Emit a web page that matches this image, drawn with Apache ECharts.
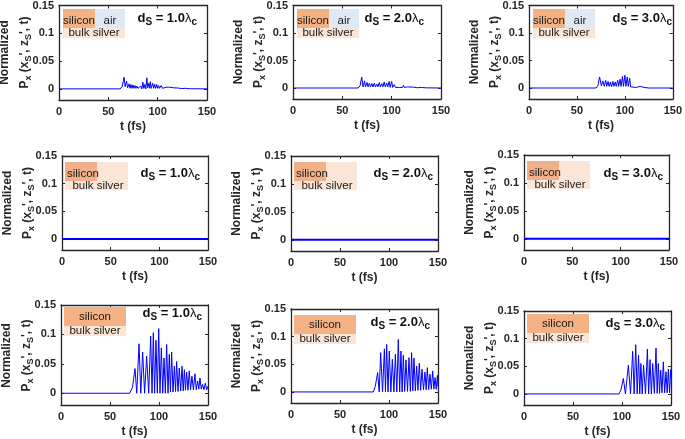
<!DOCTYPE html>
<html><head><meta charset="utf-8">
<script src="https://cdn.jsdelivr.net/npm/echarts@6/dist/echarts.min.js"></script>
<style>html,body{margin:0;padding:0;background:#fff}#c{width:685px;height:439px}</style>
</head><body><div id="c"></div>
<script>
// ---------- data ----------
const xTicks = [0, 50, 100, 150];
const yTicks = [0, 0.05, 0.1, 0.15];
const xTitle = 't (fs)';
const dsValues = ['1.0', '2.0', '3.0'];

// row 1 : silicon / air / bulk silver
const r1c1 = [[0,0],[62,0],[64,0.004],[66,0.021],[67,0.004],[68.5,0.014],[69.5,0.002],[71,0.009],[72,0.001],[73,0.008],[74,0.001],[75,0.007],[76,0.001],[77,0.006],[78,0.001],[79,0.005],[80,0.001],[81,0.004],[82,0.001],[83,0.005],[84,0],[85,0.012],[86,0.001],[87,0.008],[88,0],[89,0.02],[90,0.002],[91,0.01],[92,0.001],[92.5,0.013],[93.5,0.001],[95,0.01],[96,0.001],[97,0.008],[98,0.001],[99,0.008],[100,0.001],[101,0.006],[102,0.001],[103.5,0.006],[105,0.001],[106,0.004],[107,0.001],[108.5,0.003],[110,0.001],[112,0.003],[114,0.001],[116,0.002],[118,0.0005],[121,0.0015],[124,0.0005],[128,0.001],[132,0.0003],[150,0]];
const r1c2 = [[0,0],[66,0],[68,0.004],[69.6,0.02],[71,0.002],[72.5,0.013],[73.5,0.002],[75,0.01],[76,0.002],[77.5,0.009],[78.5,0.002],[80,0.008],[81,0.002],[82.5,0.009],[83.5,0.002],[85,0.007],[86,0.002],[87.5,0.01],[88.5,0.002],[90,0.008],[91,0.002],[92.5,0.011],[93.5,0.002],[95,0.009],[96,0.002],[97.5,0.012],[98.5,0.001],[100,0.012],[101,0.001],[102.5,0.006],[104,0.001],[106,0.004],[108,0.001],[110,0.003],[111,0.001],[112,0.005],[113,0.001],[116,0.002],[118,0.0005],[122,0.0015],[126,0.0005],[130,0.001],[135,0.0003],[150,0]];
const r1c3 = [[0,0],[70,0],[72,0.005],[73.6,0.02],[75.5,0.004],[77,0.013],[78.5,0.003],[80,0.014],[81,0.003],[82.5,0.012],[83.5,0.003],[85,0.011],[86,0.002],[87.5,0.012],[88.5,0.003],[90,0.011],[91,0.003],[92.5,0.014],[93.5,0.003],[95,0.016],[96,0.003],[97.5,0.021],[98.5,0.003],[100,0.023],[101,0.003],[102.5,0.02],[103.5,0.003],[105,0.018],[106,0.002],[107,0.004],[108,0],[112,0.001],[114,0],[116,0.003],[117.5,0],[120,0.001],[125,0],[150,0]];
// row 2 : silicon / bulk silver (flat)
const r2c1 = [[0,0],[150,0]];
const r2c2 = [[0,0],[150,0]];
const r2c3 = [[0,0],[150,0]];
// row 3 : silicon / bulk silver
const r3c1 = [[0,0],[70,0],[73,0.01],[75.5,0.042],[77.3,0],[79.6,0.084],[81.4,0],[83.3,0.07],[85.3,0],[87.4,0.063],[89.5,0],[91.5,0.097],[92.9,0],[94.2,0.103],[95.5,0],[96.9,0.09],[98.3,0],[99.7,0.11],[101,0],[102.4,0.077],[103.8,0],[105.1,0.06],[106.5,0],[107.8,0.083],[109.2,0],[110.5,0.066],[111.7,0.002],[112.9,0.07],[114.3,0.002],[115.7,0.046],[116.9,0.003],[118,0.054],[119.4,0.003],[120.7,0.043],[122.1,0.004],[123.5,0.046],[124.7,0.004],[125.9,0.04],[127,0.005],[128.2,0.036],[129.5,0.005],[130.9,0.038],[132.2,0.006],[133.6,0.029],[135.1,0.006],[136.7,0.033],[138,0.006],[139.4,0.021],[140.6,0.007],[141.8,0.026],[143.1,0.007],[144.5,0.015],[145.9,0.006],[147.3,0.017],[148.6,0.006],[150,0.012]];
const r3c2 = [[0,0],[84,0],[86,0.01],[88.4,0.035],[90,0],[91.5,0.071],[93.4,0],[95.3,0.078],[96.4,0],[97.6,0.086],[99,0],[100.3,0.074],[101.9,0],[103.4,0.059],[105,0],[106.5,0.068],[108,0],[109.5,0.095],[110.9,0],[112.2,0.074],[113.4,0],[114.6,0.066],[116,0.001],[117.3,0.058],[118.9,0.001],[120.4,0.062],[121.8,0.001],[123.1,0.071],[124.3,0.002],[125.5,0.061],[126.9,0.002],[128.2,0.047],[129.5,0.003],[130.9,0.052],[132.3,0.003],[133.7,0.041],[135.2,0.004],[136.7,0.036],[137.9,0.004],[139.1,0.044],[140.5,0.004],[141.8,0.032],[143.2,0.005],[144.6,0.038],[145.8,0.005],[147,0.026],[148.2,0.005],[149.4,0.03],[150,0.01]];
const r3c3 = [[0,0],[97,0],[99,0.008],[101.4,0.028],[103.5,0],[106.5,0.052],[108.7,0],[110.9,0.077],[112.4,0],[114,0.089],[115.5,0],[116.9,0.07],[118.1,0],[119.3,0.055],[120.6,0],[122,0.052],[124,0],[125.9,0.081],[127.2,0],[128.6,0.062],[130,0],[131.3,0.055],[133,0.001],[134.7,0.083],[135.9,0.001],[137.1,0.055],[138.3,0.001],[139.5,0.043],[140.8,0.002],[142.2,0.058],[143.5,0.002],[144.9,0.04],[146.1,0.002],[147.3,0.045],[148.5,0.002],[149.7,0.044],[150,0.03]];

const seriesData = [r1c1, r1c2, r1c3, r2c1, r2c2, r2c3, r3c1, r3c2, r3c3];

// ---------- layout ----------
// [left, top, right, bottom] plot boxes in px
const boxes = [
  [59,5,207,100],[293,5,441,99],[529,5,677,99],
  [62,156,208,250],[291,156,438,251],[524,155,669,250],
  [61,305,208,406],[291,309,438,403],[524,311,671,405]
];
// d_S label anchor (right x, center y)
const dsPos = [[197,18],[424,18],[672,18],[200,173],[433,173],[663,173],[202,313],[430,322],[665,323]];

const FONT = '"Liberation Sans", Arial, sans-serif';
const AX = '#262626';
const C_OR = '#F4B183', C_BL = '#DDEAF6', C_PE = '#FBE5D6';

const grids = [], xAxes = [], yAxes = [], series = [], graphics = [];

function rect(x, y, w, h, fill) {
  graphics.push({type:'rect', shape:{x, y, width:w, height:h}, style:{fill}, z:5, silent:true});
}
function txt(x, y, s, opts) {
  graphics.push(Object.assign({type:'text', x, y, z:6, silent:true,
    style:Object.assign({text:s, font:'11.5px ' + FONT, fill:'#1a1a1a', align:'center', verticalAlign:'middle'}, opts||{})}));
}

boxes.forEach((b, i) => {
  const [l, t, r, bt] = b;
  const row = Math.floor(i / 3), col = i % 3;
  grids.push({left:l, top:t, width:r-l, height:bt-t, containLabel:false});
  const axLine = {show:true, onZero:false, lineStyle:{color:AX, width:1.3}};
  const tick = {show:true, inside:true, length:3, lineStyle:{color:AX, width:1}};
  const lab = {color:AX, fontFamily:FONT, fontWeight:'bold', fontSize:11};
  xAxes.push({gridIndex:i, type:'value', min:0, max:150, interval:50, position:'bottom',
    axisLine:axLine, axisTick:tick, splitLine:{show:false},
    axisLabel:Object.assign({margin:6, customValues:xTicks}, lab),
    name:xTitle, nameLocation:'middle', nameGap:21,
    nameTextStyle:{color:AX, fontFamily:FONT, fontWeight:'bold', fontSize:12}});
  xAxes.push({gridIndex:i, type:'value', min:0, max:150, interval:50, position:'top',
    axisLine:axLine, axisTick:tick, axisLabel:{show:false}, splitLine:{show:false}});
  yAxes.push({gridIndex:i, type:'value', min:-0.02, max:0.15, position:'left',
    axisLine:axLine, axisTick:Object.assign({customValues:yTicks}, tick), splitLine:{show:false},
    axisLabel:Object.assign({margin:5, customValues:yTicks, formatter: v => String(+v.toFixed(2))}, lab)});
  yAxes.push({gridIndex:i, type:'value', min:-0.02, max:0.15, position:'right',
    axisLine:axLine, axisTick:Object.assign({customValues:yTicks}, tick), axisLabel:{show:false}, splitLine:{show:false}});
  series.push({type:'line', xAxisIndex:2*i, yAxisIndex:2*i, data:seriesData[i], showSymbol:false,
    lineStyle:{color:'#0000FF', width: row === 1 ? 2 : 1}, clip:true, animation:false});

  // legend-like boxes
  if (row === 0) {
    rect(l+4, t+4, 32, 19, C_OR);
    rect(l+36, t+4, 30, 19, C_BL);
    rect(l+4, t+23, 62, 10, C_PE);
    txt(l+20, t+15.5, 'silicon');
    txt(l+51, t+15.5, 'air');
    txt(l+35, t+27.5, 'bulk silver');
  } else if (row === 1) {
    rect(l+3, t+6, 63, 28, C_PE);
    rect(l+3, t+6, 32, 19, '#F2B08A');
    txt(l+5, t+18, 'silicon', {align:'left'});
    txt(l+36, t+30, 'bulk silver');
  } else {
    const oy = col === 0 ? 2 : (col === 1 ? 6 : 3);
    rect(l+3, t+oy, 62, 19, C_OR);
    rect(l+3, t+oy+19, 62, 10, C_PE);
    txt(l+34, t+oy+10, 'silicon');
    txt(l+34, t+oy+24, 'bulk silver');
  }

  // d_S label
  graphics.push({type:'text', x:dsPos[i][0], y:dsPos[i][1], z:6, silent:true,
    style:{text:'{b|d}{s|S}{b| = ' + dsValues[col] + '}{l|λ}{s|c}', align:'right', verticalAlign:'middle',
      rich:{
        b:{font:'bold 13px ' + FONT, fill:'#111', lineHeight:18},
        s:{font:'bold 10px ' + FONT, fill:'#111', lineHeight:10, verticalAlign:'bottom'},
        l:{font:'13px ' + FONT, fill:'#111', lineHeight:18}
      }}});

  // y-axis title (two lines, rotated)
  const cy = (t + bt) / 2;
  graphics.push({type:'text', x:l-54, y:cy, rotation:Math.PI/2, z:6, silent:true,
    style:{text:'Normalized', font:'bold 12px ' + FONT, fill:AX, align:'center', verticalAlign:'middle'}});
  graphics.push({type:'text', x:l-34, y:cy, rotation:Math.PI/2, z:6, silent:true,
    style:{text:'{b|P}{s|x}{b| (x}{s|S}{b|\', z}{s|S}{b|\', t)}', align:'center', verticalAlign:'middle',
      rich:{
        b:{font:'bold 12px ' + FONT, fill:AX, lineHeight:16},
        s:{font:'bold 9px ' + FONT, fill:AX, lineHeight:9, verticalAlign:'bottom'}
      }}});
});

const chart = echarts.init(document.getElementById('c'), null, {renderer:'canvas'});
chart.setOption({
  animation:false,
  backgroundColor:'#fff',
  grid:grids, xAxis:xAxes, yAxis:yAxes, series:series, graphic:graphics
});
</script></body></html>
